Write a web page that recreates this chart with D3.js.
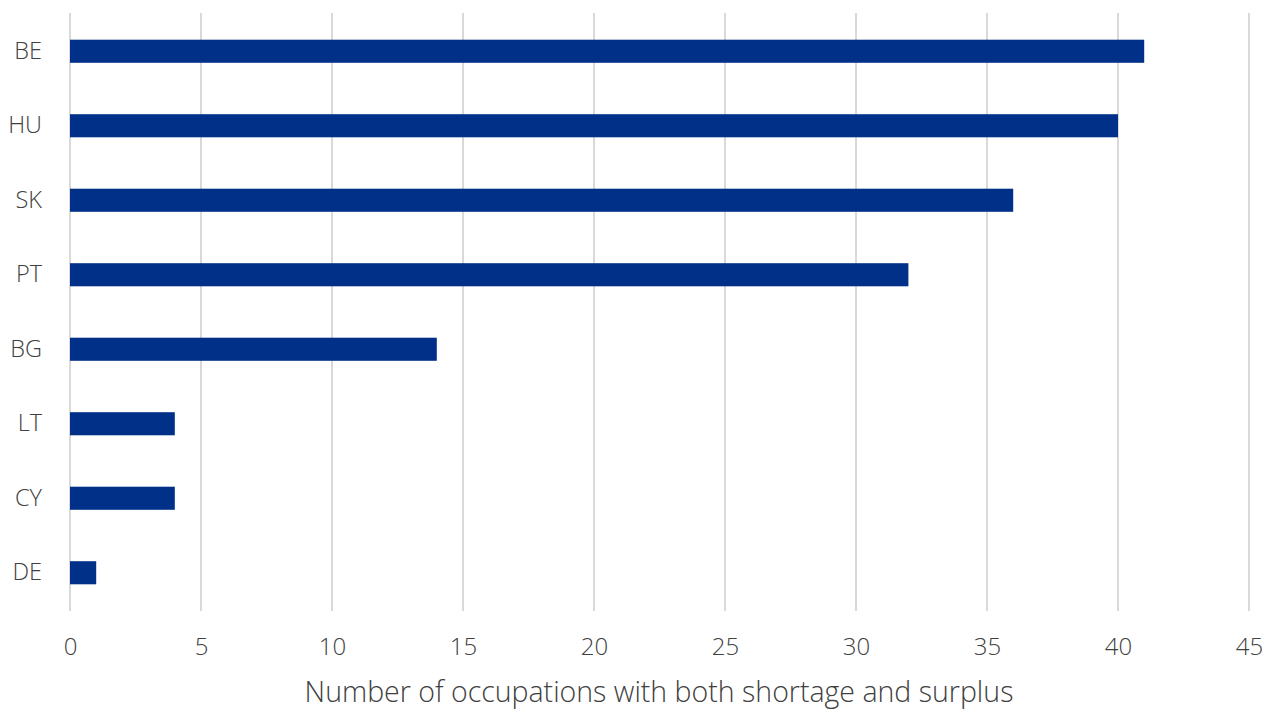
<!DOCTYPE html>
<html><head><meta charset="utf-8">
<script src="https://cdn.jsdelivr.net/npm/d3@7"></script>
<style>body{margin:0;background:#fff}svg text{font-family:"Open Sans",sans-serif;font-weight:300;fill:#404040}</style>
</head><body>
<svg id="c" width="1275" height="714"></svg>
<script>
const categories = ["BE","HU","SK","PT","BG","LT","CY","DE"];
const values = [41,40,36,32,14,4,4,1];
const tickValues = [0,5,10,15,20,25,30,35,40,45];
const axisTitle = "Number of occupations with both shortage and surplus";

const svg = d3.select("#c");
const x = d3.scaleLinear().domain([0,45]).range([70,1249]);
const y = d3.scaleBand().domain(categories).range([14,610]).paddingInner(0.69).paddingOuter(0.345);

// grid lines
svg.append("g").selectAll("line").data(tickValues).join("line")
  .attr("x1",d=>x(d)).attr("x2",d=>x(d)).attr("y1",13).attr("y2",611)
  .attr("stroke","#d9d9d9").attr("stroke-width",2);

// bars
svg.append("g").selectAll("rect").data(values).join("rect")
  .attr("x",x(0)).attr("y",(d,i)=>y(categories[i]))
  .attr("width",d=>x(d)-x(0)).attr("height",y.bandwidth())
  .attr("fill","#003087");

// x axis
const xa = svg.append("g").attr("transform","translate(0,611)")
  .call(d3.axisBottom(x).tickValues(tickValues).tickSize(0).tickPadding(27));
xa.select(".domain").remove();
xa.selectAll("text").attr("font-size",24).attr("fill","#404040");

// y axis
const ya = svg.append("g").attr("transform","translate(70,0)")
  .call(d3.axisLeft(y).tickSize(0).tickPadding(28));
ya.select(".domain").remove();
ya.selectAll("text").attr("font-size",23.5).attr("fill","#404040");

svg.append("text").attr("x",659).attr("y",702).attr("text-anchor","middle")
  .attr("font-size",28.5).text(axisTitle);
</script>
</body></html>
